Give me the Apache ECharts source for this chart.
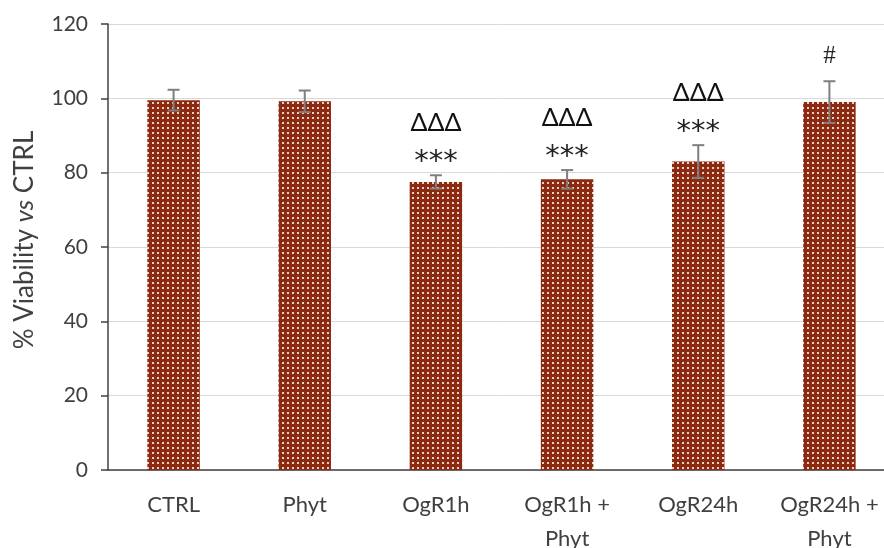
<!DOCTYPE html>
<html><head><meta charset="utf-8">
<script src="https://cdn.jsdelivr.net/npm/echarts@6/dist/echarts.min.js"></script>
<style>html,body{margin:0;padding:0;background:#fff}#c{width:884px;height:548px}</style>
</head><body><div id="c"></div>
<script>
var categories = ['CTRL', 'Phyt', 'OgR1h', 'OgR1h +\nPhyt', 'OgR24h', 'OgR24h +\nPhyt'];
var means = [99.5, 99.2, 77.5, 78.2, 83.0, 99.0];
var errors = [2.8, 2.9, 1.8, 2.5, 4.4, 5.6];
var markTop = ['', '', 'ΔΔΔ', 'ΔΔΔ', 'ΔΔΔ', '#'];
var markLow = ['', '', '***', '***', '***', ''];
var yTicks = [0, 20, 40, 60, 80, 100, 120];

var cv = document.createElement('canvas');
cv.width = 5; cv.height = 5;
var cx = cv.getContext('2d');
cx.fillStyle = '#8b2a10'; cx.fillRect(0, 0, 5, 5);
cx.fillStyle = '#ead2c8'; cx.fillRect(2, 2, 2, 2);

var chart = echarts.init(document.getElementById('c'));
var font = 'Lato, "Open Sans", sans-serif';
chart.setOption({
  animation: false,
  grid: {left: 108, right: -11, top: 24, bottom: 78, containLabel: false, outerBoundsMode: 'none'},
  xAxis: {
    type: 'category', data: categories,
    axisLine: {lineStyle: {color: '#404040', width: 1.5}},
    axisTick: {show: false},
    axisLabel: {color: '#404040', fontSize: 22, fontFamily: font, margin: 18, lineHeight: 34, interval: 0}
  },
  yAxis: {
    type: 'value', min: yTicks[0], max: yTicks[yTicks.length - 1], interval: 20,
    name: '{a|% Viability }{b|vs}{a| CTRL}', nameLocation: 'middle', nameGap: 70, nameRotate: 90,
    nameTextStyle: {padding: [0, 0, 0, 14], rich: {a: {fontSize: 26, color: '#404040', fontFamily: font}, b: {fontSize: 26, color: '#404040', fontStyle: 'italic', fontFamily: font}}},
    axisLine: {show: true, lineStyle: {color: '#404040', width: 1.5}},
    axisTick: {show: true, inside: false, length: 7, lineStyle: {color: '#404040', width: 1.5}},
    axisLabel: {color: '#404040', fontSize: 21, fontFamily: font, margin: 20},
    splitLine: {lineStyle: {color: '#d9d9d9', width: 1}}
  },
  series: [{
    type: 'bar', data: means, barWidth: '40%',
    itemStyle: {color: {image: cv, repeat: 'repeat'}}
  }, {
    type: 'custom',
    data: means.map(function (m, i) { return [i, m, errors[i]]; }),
    renderItem: function (params, api) {
      var i = api.value(0), m = api.value(1), e = api.value(2);
      var top = api.coord([i, m + e]);
      var bot = api.coord([i, m - e]);
      var c = '#7f7f7f', w = 6;
      var children = [
        {type: 'line', shape: {x1: top[0], y1: top[1], x2: bot[0], y2: bot[1]}, style: {stroke: c, lineWidth: 2}},
        {type: 'line', shape: {x1: top[0] - w, y1: top[1], x2: top[0] + w, y2: top[1]}, style: {stroke: c, lineWidth: 2}},
        {type: 'line', shape: {x1: bot[0] - w, y1: bot[1], x2: bot[0] + w, y2: bot[1]}, style: {stroke: c, lineWidth: 2}}
      ];
      var t = markTop[i], l = markLow[i];
      if (l) {
        children.push({type: 'text', x: top[0], y: top[1] - 27, style: {text: l, fontSize: 29, fontFamily: '"DejaVu Sans", sans-serif', fill: '#222', align: 'center', verticalAlign: 'top'}});
        children.push({type: 'text', x: top[0], y: top[1] - 52, style: {text: t, fontSize: 25, fontFamily: font, fill: '#111', align: 'center', verticalAlign: 'middle'}});
      } else if (t) {
        children.push({type: 'text', x: top[0], y: top[1] - 25, style: {text: t, fontSize: 25, fontFamily: '"Liberation Serif", serif', fill: '#222', align: 'center', verticalAlign: 'middle'}});
      }
      return {type: 'group', children: children};
    },
    z: 5
  }]
});
</script></body></html>
